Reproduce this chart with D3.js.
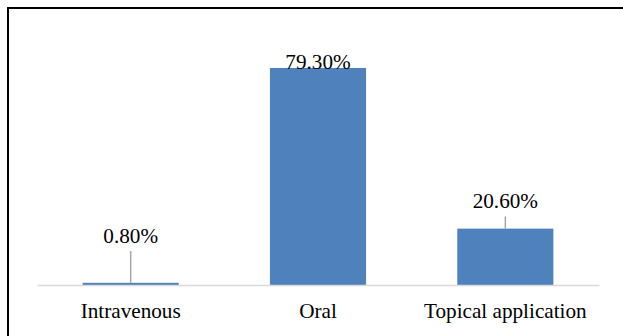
<!DOCTYPE html>
<html><head><meta charset="utf-8">
<script src="https://cdn.jsdelivr.net/npm/d3@7"></script>
<style>html,body{margin:0;padding:0;background:#fff;}svg{display:block;}</style>
</head><body>
<script>
const categories = ["Intravenous", "Oral", "Topical application"];
const values = [0.8, 79.3, 20.6];
const valueLabels = ["0.80%", "79.30%", "20.60%"];

const W = 623, H = 336;
const svg = d3.select("body").append("svg").attr("width", W).attr("height", H);

// frame
svg.append("path").attr("d", `M8,${H} L8,8 L${W},8`).attr("fill","none").attr("stroke","#000").attr("stroke-width",2);

const x = d3.scaleBand().domain(categories).range([37, 599]).paddingInner(0.487).paddingOuter(0.2435);
const y = d3.scaleLinear().domain([0, 100]).range([285, 11.3]);

svg.selectAll("rect.bar").data(values).join("rect")
  .attr("x", (d,i) => x(categories[i]))
  .attr("width", x.bandwidth())
  .attr("y", d => y(d))
  .attr("height", d => y(0) - y(d))
  .attr("fill", "#4F81BD");

// axis
const ax = svg.append("g").attr("transform", `translate(0,${y(0)})`).call(d3.axisBottom(x).tickSize(0).tickPadding(0));
ax.select(".domain").attr("stroke", "#d9d9d9").attr("stroke-width", 1.5);
ax.selectAll("text").attr("font-family", "'Liberation Serif', 'Times New Roman', serif")
  .attr("font-size", 21.2).attr("fill", "#000").attr("dy", null).attr("y", 33);

// leader lines
const leaders = [{i:0, top:251}, {i:2, top:216.5}];
svg.selectAll("line.leader").data(leaders).join("line")
  .attr("x1", d => x(categories[d.i]) + x.bandwidth()/2)
  .attr("x2", d => x(categories[d.i]) + x.bandwidth()/2)
  .attr("y1", d => d.top)
  .attr("y2", d => y(values[d.i]))
  .attr("stroke", "#a6a6a6").attr("stroke-width", 1.5);

const labelBaseline = [243, 69, 208];
svg.selectAll("text.val").data(values).join("text")
  .attr("x", (d,i) => x(categories[i]) + x.bandwidth()/2)
  .attr("y", (d,i) => labelBaseline[i])
  .attr("text-anchor", "middle")
  .attr("font-family", "'Liberation Serif', 'Times New Roman', serif")
  .attr("font-size", 21.2).attr("fill", "#000")
  .text((d,i) => valueLabels[i]);
</script>
</body></html>
